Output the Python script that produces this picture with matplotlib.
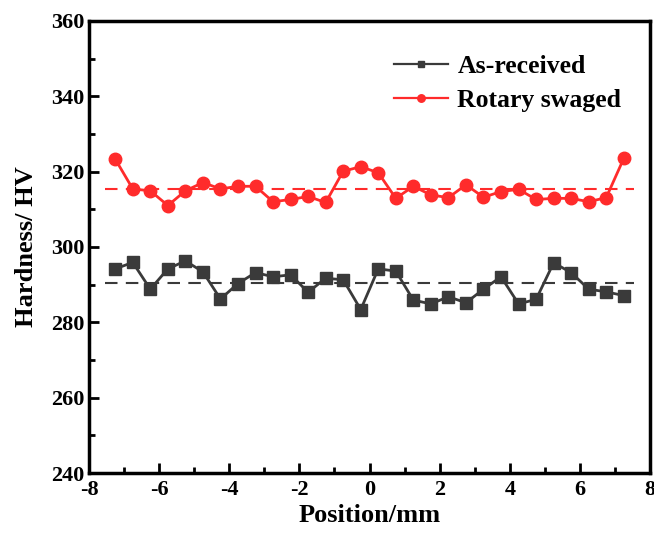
import numpy as np
import matplotlib
matplotlib.use("Agg")
import matplotlib.pyplot as plt
from matplotlib.ticker import MultipleLocator

position = [-7.25 + 0.5 * i for i in range(30)]
as_received = [294.2, 295.9, 288.8, 294.2, 296.3, 293.4, 286.2, 290.3, 293.2, 292.1,
               292.6, 288.0, 291.7, 291.3, 283.4, 294.2, 293.6, 285.9, 284.9, 286.8,
               285.2, 288.8, 292.1, 284.9, 286.1, 295.8, 293.2, 288.8, 288.1, 287.1]
rotary_swaged = [323.3, 315.4, 314.9, 311.0, 314.9, 317.1, 315.4, 316.1, 316.1, 312.0,
                 312.6, 313.4, 311.8, 320.1, 321.3, 319.7, 312.9, 316.1, 313.8, 313.1,
                 316.5, 313.2, 314.7, 315.3, 312.6, 312.9, 312.9, 312.0, 313.1, 323.5]
mean_as_received = 290.4
mean_rotary = 315.4
mean_span = [-7.55, 7.55]

plt.rcParams['font.family'] = ['Liberation Serif', 'DejaVu Serif']
plt.rcParams['font.weight'] = 'bold'
plt.rcParams['axes.unicode_minus'] = False

fig = plt.figure(figsize=(6.54, 5.34), dpi=100)
ax = fig.add_axes([0.136, 0.114, 0.858, 0.847])

black = '#3a3a3a'
red = '#ff2b2b'
ax.plot(position, as_received, '-s', color=black, lw=2, ms=8, label='As-received')
ax.plot(position, rotary_swaged, '-o', color=red, lw=2, ms=9, label='Rotary swaged')
ax.plot(mean_span, [mean_as_received] * 2, '--', color=black, lw=1.5, dashes=(6, 4))
ax.plot(mean_span, [mean_rotary] * 2, '--', color=red, lw=1.5, dashes=(6, 4))

ax.set_xlim(-8, 8)
ax.set_ylim(240, 360)
ax.xaxis.set_major_locator(MultipleLocator(2))
ax.xaxis.set_minor_locator(MultipleLocator(1))
ax.yaxis.set_major_locator(MultipleLocator(20))
ax.yaxis.set_minor_locator(MultipleLocator(10))
ax.tick_params(which='both', direction='in', top=False, right=False, width=2,
               labelsize=16)
ax.tick_params(which='major', length=7)
ax.tick_params(which='minor', length=4)
ax.tick_params(axis='x', pad=5)
for lab in ax.get_xticklabels() + ax.get_yticklabels():
    lab.set_fontweight('bold')
for s in ax.spines.values():
    s.set_linewidth(2.5)

ax.set_xlabel('Position/mm', fontsize=19, fontweight='bold', labelpad=3)
ax.set_ylabel('Hardness/ HV', fontsize=19, fontweight='bold', labelpad=9)

leg = ax.legend(loc='upper right', bbox_to_anchor=(0.99, 0.975), frameon=False,
                prop={'size': 18.5, 'weight': 'bold'}, handlelength=2.1,
                handletextpad=0.35, labelspacing=0.42, markerscale=0.6)
for h in leg.get_lines():
    h.set_linewidth(1.6)

fig.savefig('out.png', dpi=100)
